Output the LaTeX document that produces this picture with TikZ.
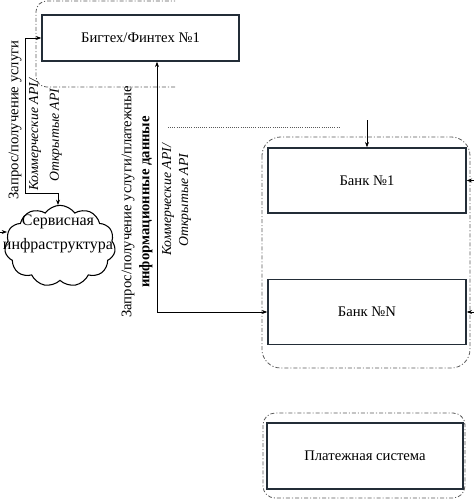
\documentclass[tikz,border=0pt]{standalone}
\usepackage{fontspec}
\setmainfont{Liberation Serif}
\usetikzlibrary{shapes.symbols,arrows.meta,calc}
\definecolor{boxc}{RGB}{35,45,55}
\definecolor{grpc}{RGB}{90,90,90}
\tikzset{
 box/.style={draw=boxc,line width=1.1pt,fill=white,inner sep=0pt,font=\fontsize{11}{13}\selectfont},
 grp/.style={draw=grpc,line width=0.6pt,dash pattern=on 3pt off 1.5pt on 0.8pt off 1.5pt},
 conn/.style={line width=0.6pt,-{Stealth[length=4pt,width=3pt]}},
 conn2/.style={line width=0.6pt,{Stealth[length=4pt,width=3pt]}-{Stealth[length=4pt,width=3pt]}},
 vlab/.style={rotate=90,align=center,font=\fontsize{11}{13.5}\selectfont,inner sep=0pt},
 ilab/.style={rotate=90,align=center,font=\fontsize{10.3}{12.75}\selectfont\itshape,inner sep=0pt},
 cloudbox/.style={draw=black,line width=0.8pt,shape=cloud,cloud puffs=11,cloud puff arc=110,aspect=1.4,minimum width=83pt,minimum height=61pt,inner sep=0pt},
}
\begin{document}
\begin{tikzpicture}[x=0.75pt,y=-0.75pt]
\useasboundingbox (0,0) rectangle (474,500);
% groups
\draw[grp,rounded corners=8] (175,87) -| (36,1) -- (175,1);
\draw[grp,rounded corners=14] (262,137) rectangle (470,368);
\draw[grp,rounded corners=9] (263,413) rectangle (465,498);
\draw[grp,densely dotted] (168,127) -- (340,127);
% boxes
\node[box,minimum width=147.75pt,minimum height=34.5pt] (bt) at (140.5,38) {Бигтех/Финтех №1};
\node[box,minimum width=148.5pt,minimum height=48.75pt] (b1) at (367,180.5) {Банк №1};
\node[box,minimum width=148.5pt,minimum height=48.75pt] (bN) at (367,312) {Банк №N};
\node[box,minimum width=147pt,minimum height=49.5pt] (ps) at (365,456) {Платежная система};
\node[cloudbox] (cl) at (60,246) {};
\node[align=center,font=\fontsize{12}{18}\selectfont,inner sep=0pt] (clt) at (58,234) {Сервисная\\инфраструктура};
% labels
\node[vlab] (t1) at (15,120) {Запрос/получение услуги};
\node[ilab,font=\fontsize{10.3}{15.5}\selectfont\itshape] (t2) at (45.5,135) {Коммерческие API/\\Открытые API};
\node[vlab] (t3) at (137,202) {Запрос/получение услуги/платежные\\\textbf{информационные данные}};
\node[ilab] (t4) at (176.5,200) {Коммерческие API/\\Открытые API};
% coordinates
\coordinate (lc) at (25,193);
\coordinate (ct) at (58,205);
\coordinate (mx) at (157,0);
\coordinate (tb) at (367,120);
\coordinate (r1) at (474,180.5);
\coordinate (rN) at (474,312);
\coordinate (la) at (0,232);
\coordinate (lb) at (7,232);
% connectors
\draw[conn2] (bt.west) -| (lc) -| (ct);
\draw[conn2] (bt.south -| mx) |- (bN.west);
\draw[conn] (tb) -- (b1.north);
\draw[conn] (r1) -- (b1.east);
\draw[conn] (rN) -- (bN.east);
\draw[conn] (la) -- (lb);
\end{tikzpicture}
\end{document}
